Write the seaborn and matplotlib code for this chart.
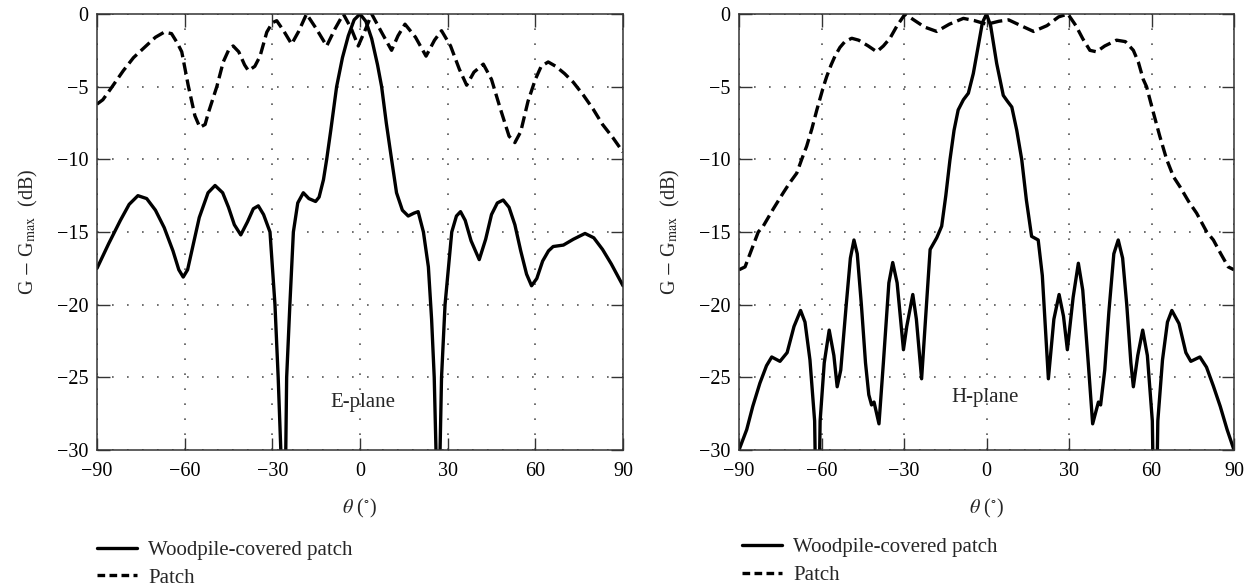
import numpy as np
import pandas as pd
import matplotlib
matplotlib.use("Agg")
import matplotlib.pyplot as plt
import seaborn as sns

# ---------------- data ----------------
e_theta_wood = [-90, -86, -82, -79, -76, -73, -70, -67, -64, -62, -60.5, -59, -57, -55, -52,
                -49.6, -47, -45, -43, -40.8, -38.5, -36.5, -34.8, -33, -30.8, -29.1, -28, -27.1,
                -26.3, -25.4, -25.1, -24, -22.8, -21.3, -19.4, -17.5, -15.2, -14, -12.5, -11.4,
                -10, -8, -6, -4, -2, 0, 2, 4, 6, 7.4, 9, 10.8, 12.5, 14.5, 16.5, 18.5, 19.9,
                21.7, 23.4, 24.5, 25.4, 26.0, 26.7, 27.4, 27.9, 29.1, 31.4, 33, 34.4, 36, 38,
                40.8, 43, 45, 47, 49, 51, 53, 55, 57, 58.7, 60.5, 62.5, 64.5, 66.1, 69.6, 73,
                77, 80, 83, 86, 90]
e_db_wood = [-17.5, -15.8, -14.2, -13.1, -12.5, -12.7, -13.5, -14.7, -16.3, -17.6, -18.1, -17.6,
             -15.8, -14.0, -12.3, -11.8, -12.3, -13.3, -14.5, -15.2, -14.3, -13.4, -13.2, -13.8,
             -15.0, -20.0, -25.0, -30.0, -45.0, -30.0, -25.0, -20.0, -15.0, -13.0, -12.3, -12.7,
             -12.9, -12.6, -11.4, -10.0, -8.0, -5.0, -3.0, -1.5, -0.4, 0.0, -0.5, -1.7, -3.5,
             -5.0, -7.5, -10.0, -12.3, -13.5, -13.9, -13.7, -13.6, -15.0, -17.4, -21.0, -25.0,
             -30.0, -45.0, -30.0, -25.0, -20.0, -15.0, -13.9, -13.6, -14.2, -15.6, -16.9, -15.5,
             -13.8, -13.0, -12.8, -13.3, -14.5, -16.3, -17.9, -18.7, -18.2, -17.0, -16.3, -16.0,
             -15.9, -15.5, -15.1, -15.4, -16.2, -17.2, -18.7]

e_theta_patch = [-90, -88, -85.5, -81, -77.5, -74.3, -70, -67, -64.5, -62.5, -61, -58.8, -56.5,
                 -54.8, -53, -51.9, -49, -46.8, -45, -43.4, -41.5, -39.5, -38.2, -36, -34.2,
                 -31.9, -30, -28.5, -26, -23.4, -21, -18.3, -15, -11.4, -8.5, -5.7, -3, -0.6, 2,
                 4.0, 7.5, 10.8, 13, 15.4, 19, 22.6, 25.5, 27.9, 31, 34, 36.5, 39, 42.2, 45, 48,
                 51, 53, 55, 57.5, 60, 62, 64.4, 67, 70, 73, 76.5, 79.8, 83, 86.5, 90]
e_db_patch = [-6.2, -5.9, -5.2, -3.9, -3.0, -2.4, -1.6, -1.25, -1.35, -2.0, -2.6, -4.9, -7.0,
              -7.8, -7.6, -6.8, -5.0, -3.3, -2.5, -2.2, -2.6, -3.5, -3.9, -3.6, -2.9, -1.25,
              -0.6, -0.46, -1.2, -2.07, -1.2, 0.0, -1.0, -2.2, -1.0, 0.0, -1.0, -2.2, -1.0, 0.0,
              -1.3, -2.5, -1.5, -0.7, -1.6, -2.9, -1.8, -1.15, -2.2, -3.8, -4.9, -4.0, -3.45,
              -4.5, -6.5, -8.4, -8.85, -8.1, -6.0, -4.5, -3.6, -3.3, -3.6, -4.1, -4.7, -5.6,
              -6.55, -7.6, -8.5, -9.5]

h_theta_wood = [-90, -87.2, -85, -82.4, -80, -78.1, -75.1, -72.5, -70, -67.6, -66, -64.2, -62.5,
                -61.5, -60.5, -59, -57.2, -55.5, -54.3, -53, -51, -49.5, -48.2, -47, -45.5, -44,
                -42.8, -41.8, -40.9, -39.1, -37.5, -35.5, -34.1, -32.5, -30.2, -29, -26.8, -25.5,
                -23.6, -22, -20.5, -18.1, -16.3, -14.8, -13.3, -11.8, -10.3, -8.4, -6.6, -4.8,
                -3, -1.5, 0, 1.5, 3.7, 6.1, 7.6, 9.2, 11, 12.8, 14.5, 16.4, 18.8, 20.3, 22.5,
                24.5, 26.4, 28, 29.4, 31.5, 33.4, 35, 37, 38.6, 40.7, 41.5, 43, 44.5, 46.3, 47.9,
                49.5, 51, 52.5, 53.4, 55, 56.8, 58.5, 60.3, 61.3, 62.3, 64, 65.8, 67.4, 70, 72.5,
                74.3, 77.6, 80, 82.5, 85, 87.5, 90]
h_db_wood = [-30.0, -28.6, -27.0, -25.4, -24.2, -23.6, -23.9, -23.3, -21.5, -20.4, -21.2, -23.8,
             -28.0, -40.0, -28.0, -24.0, -21.75, -23.5, -25.65, -24.5, -20.0, -16.8, -15.55,
             -16.5, -20.0, -24.0, -26.2, -26.9, -26.7, -28.2, -24.0, -18.5, -17.1, -18.5, -23.1,
             -21.5, -19.3, -21.0, -25.1, -20.5, -16.2, -15.4, -14.6, -12.5, -10.05, -8.0, -6.6,
             -5.9, -5.45, -4.1, -2.2, -0.6, 0.0, -0.8, -3.4, -5.6, -6.0, -6.4, -8.0, -10.0,
             -12.8, -15.3, -15.55, -18.0, -25.1, -21.0, -19.3, -20.8, -23.1, -19.5, -17.15,
             -19.0, -24.0, -28.2, -26.7, -26.9, -24.5, -20.5, -16.5, -15.55, -16.8, -20.0,
             -24.0, -25.65, -23.5, -21.75, -23.5, -28.0, -40.0, -28.0, -23.8, -21.2, -20.4,
             -21.3, -23.3, -23.9, -23.6, -24.3, -25.6, -27.0, -28.6, -30.0]

h_theta_patch = [-90, -87.8, -83, -81.2, -77.5, -73.9, -71.5, -69, -67.2, -65.4, -63.5, -61.7,
                 -59.3, -58.1, -56.5, -55.1, -53.3, -51.5, -49, -46.5, -43, -39.9, -37.5, -35.1,
                 -32.5, -29.6, -26.5, -22.5, -18.1, -13.5, -8.4, -4.5, -1.1, 0, 1.5, 4.5, 8.0,
                 12.5, 17.1, 22, 26.2, 29.6, 32.5, 35, 37.6, 40, 43, 47.3, 50.5, 53.4, 55.2, 57.0,
                 58.2, 60.7, 63, 65.5, 68, 70.4, 73.5, 76.4, 80.1, 82.5, 85.2, 87.9, 90]
h_db_patch = [-17.6, -17.4, -15.0, -14.6, -13.4, -12.3, -11.6, -10.95, -10.0, -9.1, -7.9, -6.6,
              -5.0, -4.3, -3.5, -2.9, -2.3, -1.9, -1.67, -1.8, -2.2, -2.6, -2.2, -1.67, -0.8,
              0.0, -0.4, -0.9, -1.2, -0.7, -0.3, -0.45, -0.64, -0.7, -0.64, -0.5, -0.4, -0.8,
              -1.2, -0.8, -0.2, 0.0, -0.8, -1.7, -2.5, -2.6, -2.2, -1.8, -1.9, -2.5, -3.3, -4.5,
              -5.0, -6.8, -8.4, -10.0, -11.2, -11.9, -12.9, -13.7, -15.0, -15.55, -16.5, -17.4,
              -17.6]

x_ticks = [-90, -60, -30, 0, 30, 60, 90]
y_ticks = [0, -5, -10, -15, -20, -25, -30]
series_labels = ["Woodpile-covered patch", "Patch"]
plane_labels = ["E-plane", "H-plane"]

# ---------------- style ----------------
sns.set_theme(style="ticks")
plt.rcParams["font.family"] = ["Liberation Serif", "DejaVu Serif"]
plt.rcParams["mathtext.fontset"] = "stix"
plt.rcParams["axes.edgecolor"] = "#333333"
plt.rcParams["axes.linewidth"] = 1.1

fig = plt.figure(figsize=(12.5, 5.88), dpi=100)
ax_l = fig.add_axes([97 / 1250, 1 - 450 / 588, 526 / 1250, 436 / 588])
ax_r = fig.add_axes([739 / 1250, 1 - 450 / 588, 495 / 1250, 436 / 588])

LW = 2.4
DASH = (3.6, 1.6)

panels = [
    (ax_l, e_theta_wood, e_db_wood, e_theta_patch, e_db_patch, plane_labels[0], (1.0, -26.7),
     (97 / 1250, 1 - 564 / 588)),
    (ax_r, h_theta_wood, h_db_wood, h_theta_patch, h_db_patch, plane_labels[1], (-0.5, -26.4),
     (742 / 1250, 1 - 561.5 / 588)),
]

for ax, tw, dw, tp, dp, plabel, ppos, legpos in panels:
    df_w = pd.DataFrame({"theta": tw, "db": dw})
    df_p = pd.DataFrame({"theta": tp, "db": dp})
    sns.lineplot(data=df_w, x="theta", y="db", ax=ax, color="black", lw=LW,
                 estimator=None, sort=False, label=series_labels[0])
    sns.lineplot(data=df_p, x="theta", y="db", ax=ax, color="black", lw=LW,
                 estimator=None, sort=False, label=series_labels[1], dashes=False)
    ax.lines[-1].set_dashes(DASH)
    for ln in ax.lines:
        ln.set_solid_joinstyle("round")
        ln.set_dash_joinstyle("round")
    ax.set_xlim(-90, 90)
    ax.set_ylim(-30, 0)
    ax.set_xticks(x_ticks)
    ax.set_yticks(y_ticks)
    ax.set_xticklabels([f"{v}".replace("-", "\u2212") for v in x_ticks])
    ax.set_yticklabels([f"{v}".replace("-", "\u2212") for v in y_ticks])
    ax.tick_params(direction="in", length=9, width=1.0, top=True, right=True,
                   labelsize=14.5, colors="#333333", labelcolor="black")
    ax.tick_params(axis="x", pad=9)
    ax.tick_params(axis="y", pad=6)
    ax.grid(True, color="#555555", linestyle=(0, (1, 8)), linewidth=1.2)
    ax.set_xlabel(r"$\theta$ ($^{\circ}$)", fontsize=14.5, labelpad=11)
    ax.set_ylabel(r"G $-$ G$_{\mathrm{max}}$  (dB)", fontsize=14.5, labelpad=12)
    ax.text(ppos[0], ppos[1], plabel, ha="center", va="center", fontsize=15)
    leg = ax.legend(loc="center left", bbox_to_anchor=legpos, bbox_transform=fig.transFigure,
                    frameon=False, fontsize=15, handlelength=1.9, handletextpad=0.55,
                    labelspacing=0.4, borderpad=0, borderaxespad=0)
    for h in leg.get_lines():
        h.set_linewidth(LW)
    leg.get_lines()[1].set_dashes((2.3, 1.3))

fig.savefig("out.png", dpi=100)
